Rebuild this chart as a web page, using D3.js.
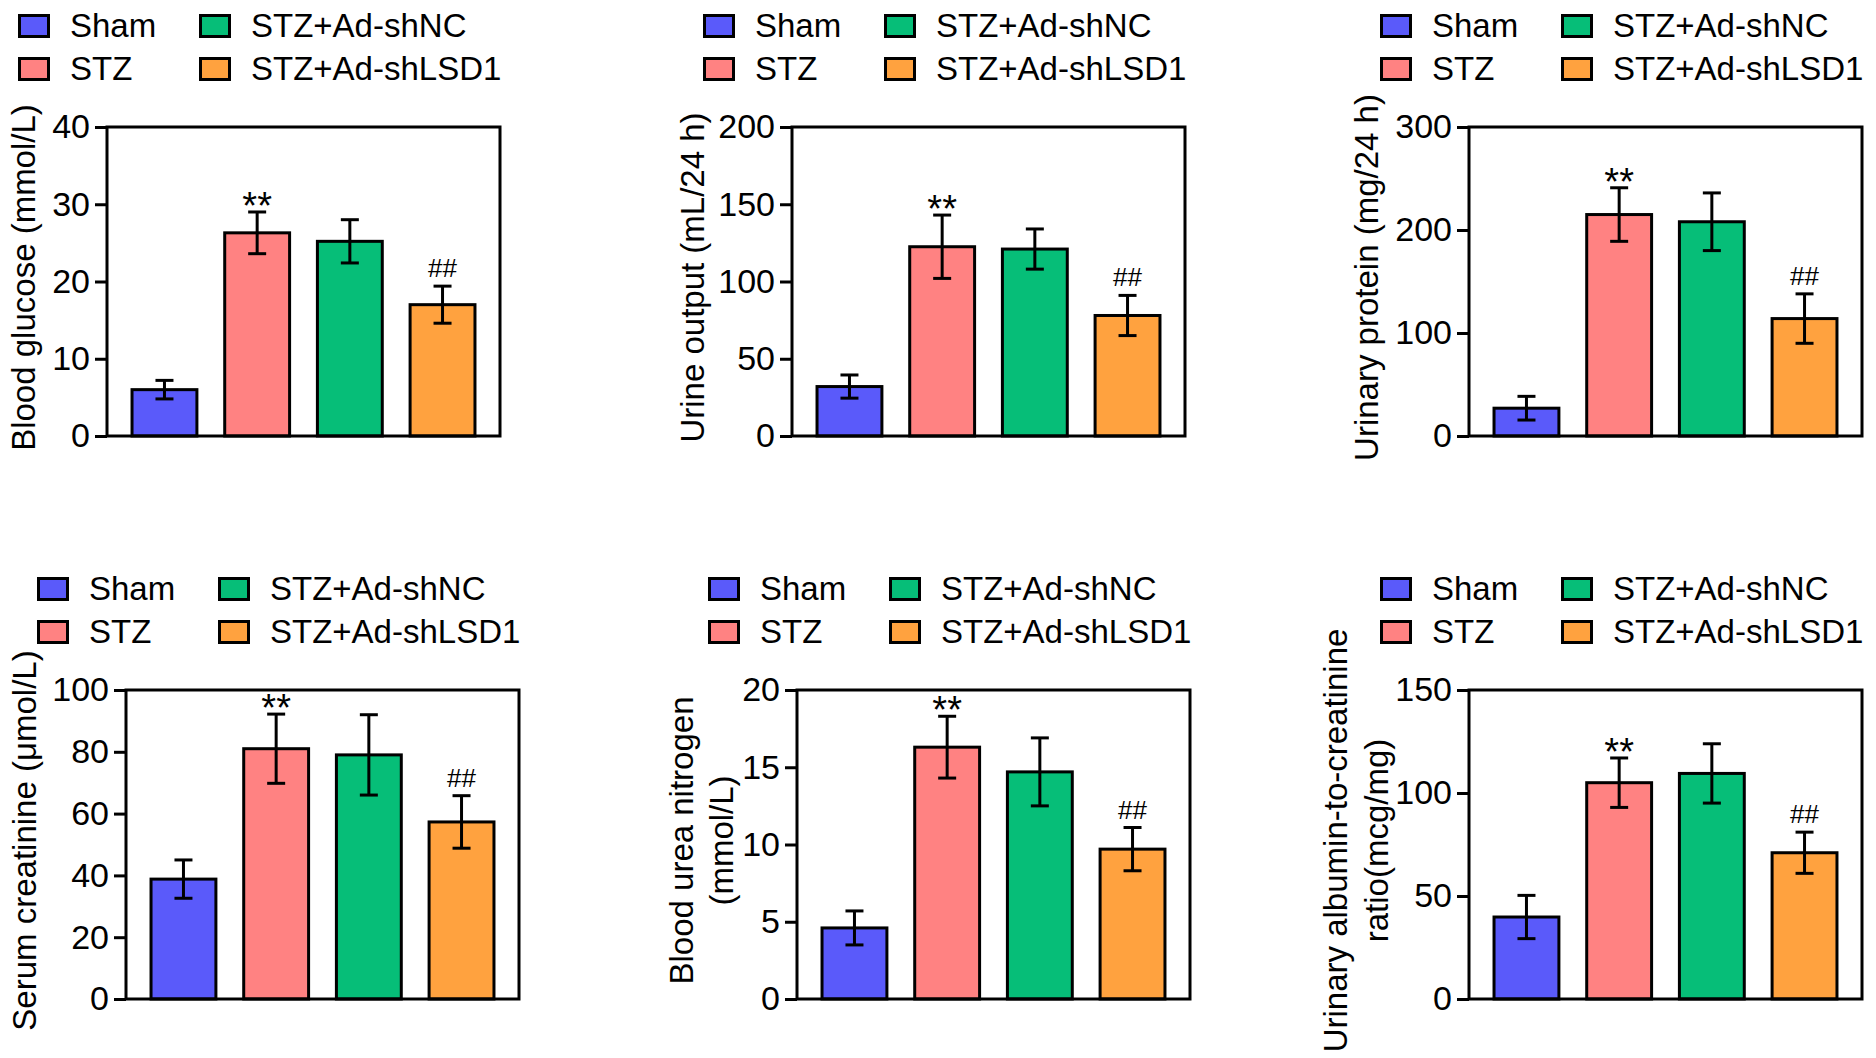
<!DOCTYPE html>
<html>
<head>
<meta charset="utf-8">
<script src="https://cdn.jsdelivr.net/npm/d3@7"></script>
<style>
  html, body { margin: 0; padding: 0; background: #fff; }
  svg { display: block; }
  text { font-family: "Liberation Sans", Arial, Helvetica, sans-serif; fill: #000; }
</style>
</head>
<body>
<svg id="chart" width="1876" height="1058"></svg>
<script>
// ---------- DATA ----------
const groups = ["Sham", "STZ", "STZ+Ad-shNC", "STZ+Ad-shLSD1"];
const groupColors = ["#5A5AFA", "#FF8282", "#06BE78", "#FFA23F"];

const glucoseMean = [6.0, 26.3, 25.2, 17.0];
const glucoseErr  = [1.2, 2.7, 2.8, 2.4];
const glucoseTicks = [0, 10, 20, 30, 40];

const urineMean = [32, 122.5, 121, 78];
const urineErr  = [7.5, 20.5, 13, 13];
const urineTicks = [0, 50, 100, 150, 200];

const proteinMean = [27, 215, 208, 114];
const proteinErr  = [11.5, 26, 28, 24];
const proteinTicks = [0, 100, 200, 300];

const creatMean = [38.8, 81, 79, 57.3];
const creatErr  = [6.2, 11.2, 13, 8.5];
const creatTicks = [0, 20, 40, 60, 80, 100];

const bunMean = [4.6, 16.3, 14.7, 9.7];
const bunErr  = [1.1, 2.0, 2.2, 1.4];
const bunTicks = [0, 5, 10, 15, 20];

const acrMean = [39.8, 105, 109.5, 71];
const acrErr  = [10.5, 12, 14.4, 10];
const acrTicks = [0, 50, 100, 150];

const glucoseLabel = ["Blood glucose (mmol/L)"];
const urineLabel = ["Urine output (mL/24 h)"];
const proteinLabel = ["Urinary protein (mg/24 h)"];
const creatLabel = ["Serum creatinine (\u03bcmol/L)"];
const bunLabel = ["Blood urea nitrogen", "(mmol/L)"];
const acrLabel = ["Urinary albumin-to-creatinine", "ratio(mcg/mg)"];

// significance marks: "**" on STZ vs Sham, "##" on shLSD1 vs shNC
const sigMarks = ["", "**", "", "##"];

// ---------- LAYOUT ----------
const W = 393, H = 309;
const panels = [
  { mean: glucoseMean, err: glucoseErr, ticks: glucoseTicks, label: glucoseLabel, x: 107, y: 127, lab: [-72] },
  { mean: urineMean,   err: urineErr,   ticks: urineTicks,   label: urineLabel,   x: 792, y: 127, lab: [-88] },
  { mean: proteinMean, err: proteinErr, ticks: proteinTicks, label: proteinLabel, x: 1469, y: 127, lab: [-91] },
  { mean: creatMean,   err: creatErr,   ticks: creatTicks,   label: creatLabel,   x: 126, y: 690, lab: [-90] },
  { mean: bunMean,     err: bunErr,     ticks: bunTicks,     label: bunLabel,     x: 797, y: 690, lab: [-104, -64] },
  { mean: acrMean,     err: acrErr,     ticks: acrTicks,     label: acrLabel,     x: 1469, y: 690, lab: [-122, -81] }
];

const svg = d3.select("#chart");
svg.append("rect").attr("width", 1876).attr("height", 1058).attr("fill", "#fff");

panels.forEach(p => {
  const g = svg.append("g").attr("transform", `translate(${p.x},${p.y})`);
  const x = d3.scaleBand().domain(groups).range([0, W]).paddingInner(0.3).paddingOuter(0.27);
  const yMax = p.ticks[p.ticks.length - 1];
  const y = d3.scaleLinear().domain([0, yMax]).range([H, 0]);

  // legend
  const leg = g.append("g");
  groups.forEach((grp, i) => {
    const col = Math.floor(i / 2), row = i % 2;
    leg.append("rect")
      .attr("x", -89 + col * 181 + 1.5).attr("y", -113 + row * 43 + 1.5)
      .attr("width", 29).attr("height", 21)
      .attr("fill", groupColors[i]).attr("stroke", "#000").attr("stroke-width", 3);
    leg.append("text")
      .attr("x", -37 + col * 181).attr("y", -90 + row * 43)
      .attr("font-size", 33).text(grp);
  });

  // bars
  g.selectAll("rect.bar").data(p.mean).enter().append("rect")
    .attr("class", "bar")
    .attr("x", (d, i) => x(groups[i]))
    .attr("width", x.bandwidth())
    .attr("y", d => y(d))
    .attr("height", d => y(0) - y(d))
    .attr("fill", (d, i) => groupColors[i])
    .attr("stroke", "#000").attr("stroke-width", 3);

  // error bars
  const capW = 18;
  p.mean.forEach((m, i) => {
    const cx = x(groups[i]) + x.bandwidth() / 2;
    const e = p.err[i];
    const eg = g.append("g").attr("stroke", "#000").attr("stroke-width", 3).attr("fill", "none");
    eg.append("line").attr("x1", cx).attr("x2", cx).attr("y1", y(m - e)).attr("y2", y(m + e));
    eg.append("line").attr("x1", cx - capW / 2).attr("x2", cx + capW / 2).attr("y1", y(m + e)).attr("y2", y(m + e));
    eg.append("line").attr("x1", cx - capW / 2).attr("x2", cx + capW / 2).attr("y1", y(m - e)).attr("y2", y(m - e));

    const s = sigMarks[i];
    if (s === "**") {
      g.append("text").attr("x", cx).attr("y", y(m + e) + 7)
        .attr("text-anchor", "middle").attr("font-size", 38).text(s);
    } else if (s === "##") {
      g.append("text").attr("x", cx).attr("y", y(m + e) - 9)
        .attr("text-anchor", "middle").attr("font-size", 26)
        .attr("font-family", "'DejaVu Sans', 'Liberation Sans', sans-serif")
        .attr("font-weight", "300").text(s);
    }
  });

  // frame
  g.append("rect").attr("x", 0).attr("y", 0).attr("width", W).attr("height", H)
    .attr("fill", "none").attr("stroke", "#000").attr("stroke-width", 3);

  // y axis
  const ax = g.append("g").call(
    d3.axisLeft(y).tickValues(p.ticks).tickSize(12).tickPadding(5).tickSizeOuter(0)
  );
  ax.select(".domain").remove();
  ax.selectAll(".tick line").attr("stroke", "#000").attr("stroke-width", 3);
  ax.selectAll(".tick text").attr("font-size", 34)
    .attr("font-family", "'Liberation Sans', Arial, sans-serif").attr("fill", "#000");

  // y label (rotated)
  p.label.forEach((ln, k) => {
    g.append("text")
      .attr("transform", `translate(${p.lab[k]},${H / 2 - 4}) rotate(-90)`)
      .attr("text-anchor", "middle").attr("font-size", 33).text(ln);
  });
});
</script>
</body>
</html>
